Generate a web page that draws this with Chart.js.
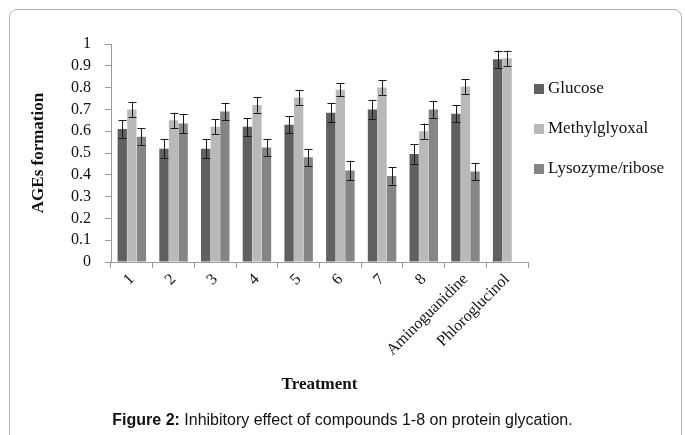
<!DOCTYPE html>
<html>
<head>
<meta charset="utf-8">
<script src="https://cdn.jsdelivr.net/npm/chart.js@4.4.1/dist/chart.umd.min.js"></script>
<style>
  html, body { margin: 0; padding: 0; background: #fff; }
  body { width: 685px; height: 435px; position: relative; overflow: hidden; }
  .frame {
    position: absolute; left: 9px; top: 9px; width: 673px; height: 500px;
    border: 1px solid #b4b4b4; border-radius: 8px; box-sizing: border-box;
  }
  #chart-wrap { position: absolute; left: 0; top: 0; width: 685px; height: 435px; }
  .caption {
    position: absolute; left: 0; width: 685px; top: 411px; text-align: center;
    font-family: "Liberation Sans", Arial, sans-serif; font-size: 16px; color: #111;
  }
  .caption b { font-weight: bold; }
</style>
</head>
<body>
<div class="frame"></div>
<div id="chart-wrap"><canvas id="agesChart" width="685" height="435"></canvas></div>
<div class="caption"><b>Figure 2:</b> Inhibitory effect of compounds 1-8 on protein glycation.</div>
<script>
// Data
const categories = ['1', '2', '3', '4', '5', '6', '7', '8', 'Aminoguanidine', 'Phloroglucinol'];
const glucose = [0.61, 0.52, 0.52, 0.62, 0.63, 0.685, 0.70, 0.495, 0.68, 0.93];
const glucoseErr = [0.04, 0.045, 0.045, 0.04, 0.04, 0.045, 0.045, 0.045, 0.04, 0.04];
const methylglyoxal = [0.70, 0.65, 0.62, 0.72, 0.755, 0.79, 0.80, 0.60, 0.805, 0.935];
const methylglyoxalErr = [0.035, 0.035, 0.035, 0.035, 0.035, 0.03, 0.035, 0.035, 0.035, 0.035];
const lysozyme = [0.575, 0.635, 0.69, 0.525, 0.48, 0.42, 0.395, 0.70, 0.415, null];
const lysozymeErr = [0.04, 0.045, 0.04, 0.04, 0.04, 0.045, 0.04, 0.04, 0.04, null];
const yTicks = [0, 0.1, 0.2, 0.3, 0.4, 0.5, 0.6, 0.7, 0.8, 0.9, 1];

const serif = '"Liberation Serif", "Times New Roman", serif';

// Error bars drawn through the y scale
const errorBars = {
  id: 'errorBars',
  afterDatasetsDraw(chart) {
    const ctx = chart.ctx;
    const y = chart.scales.y;
    ctx.save();
    ctx.strokeStyle = '#1a1a1a';
    ctx.lineWidth = 1;
    chart.data.datasets.forEach((ds, i) => {
      const meta = chart.getDatasetMeta(i);
      meta.data.forEach((bar, j) => {
        const v = ds.data[j];
        const e = ds.errors[j];
        if (v == null || e == null) return;
        const x = Math.round(bar.x) + 0.5;
        const top = y.getPixelForValue(v + e);
        const bot = y.getPixelForValue(v - e);
        ctx.beginPath();
        ctx.moveTo(x, top);
        ctx.lineTo(x, bot);
        ctx.moveTo(x - 4, Math.round(top) + 0.5);
        ctx.lineTo(x + 4, Math.round(top) + 0.5);
        ctx.moveTo(x - 4, Math.round(bot) + 0.5);
        ctx.lineTo(x + 4, Math.round(bot) + 0.5);
        ctx.stroke();
      });
    });
    ctx.restore();
  }
};

// Legend on the right, drawn like the original
const sideLegend = {
  id: 'sideLegend',
  afterDraw(chart) {
    const ctx = chart.ctx;
    ctx.save();
    ctx.font = '17px ' + serif;
    ctx.textBaseline = 'middle';
    chart.data.datasets.forEach((ds, i) => {
      const cy = 89 + i * 40;
      ctx.fillStyle = ds.backgroundColor;
      ctx.fillRect(534, cy - 5, 10, 10);
      ctx.fillStyle = '#111';
      ctx.fillText(ds.label, 548, cy);
    });
    ctx.restore();
  }
};

new Chart(document.getElementById('agesChart'), {
  type: 'bar',
  data: {
    labels: categories,
    datasets: [
      { label: 'Glucose', data: glucose, errors: glucoseErr, backgroundColor: '#606060' },
      { label: 'Methylglyoxal', data: methylglyoxal, errors: methylglyoxalErr, backgroundColor: '#b9b9b9' },
      { label: 'Lysozyme/ribose', data: lysozyme, errors: lysozymeErr, backgroundColor: '#858585' }
    ]
  },
  options: {
    responsive: false,
    animation: false,
    devicePixelRatio: 1,
    datasets: { bar: { categoryPercentage: 0.69, barPercentage: 0.97 } },
    layout: { padding: { left: 0, top: 44, right: 157, bottom: 0 } },
    plugins: { legend: { display: false }, tooltip: { enabled: false } },
    scales: {
      x: {
        afterFit(scale) { scale.height = 173; },
        grid: { display: true, drawOnChartArea: false, drawTicks: true, tickLength: 6, color: '#9a9a9a', offset: true },
        border: { color: '#9a9a9a' },
        ticks: {
          color: '#111', font: { family: serif, size: 16 },
          minRotation: 45, maxRotation: 45, padding: 2, autoSkip: false
        },
        title: {
          display: true, text: 'Treatment', color: '#111',
          font: { family: serif, size: 17, weight: 'bold' },
          padding: { bottom: 40 }
        }
      },
      y: {
        min: 0, max: 1,
        afterFit(scale) { scale.width = 111; },
        afterBuildTicks(scale) { scale.ticks = yTicks.map(v => ({ value: v })); },
        grid: { display: true, drawOnChartArea: false, drawTicks: true, tickLength: 6, color: '#9a9a9a' },
        border: { color: '#9a9a9a' },
        ticks: {
          color: '#111', font: { family: serif, size: 16 }, padding: 14,
          stepSize: 0.1, autoSkip: false,
          callback: v => String(Math.round(v * 10) / 10)
        },
        title: {
          display: true, text: 'AGEs formation', color: '#111',
          font: { family: serif, size: 17, weight: 'bold' },
          padding: { top: 28 }
        }
      }
    }
  },
  plugins: [errorBars, sideLegend]
});
</script>
</body>
</html>
